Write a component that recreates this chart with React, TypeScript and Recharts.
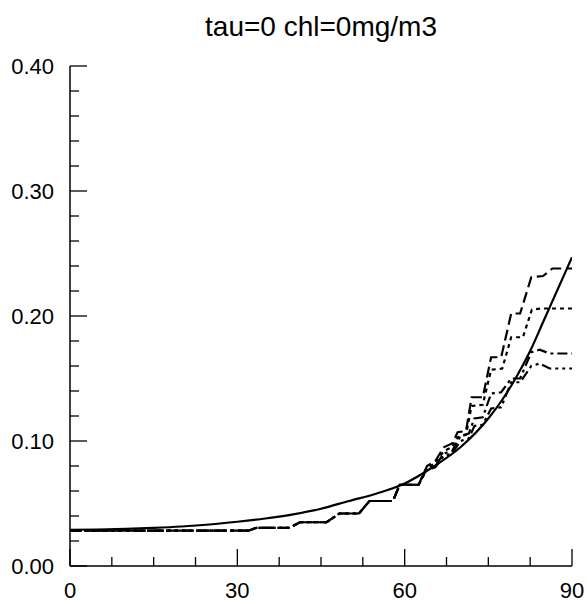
import { LineChart, Line, XAxis, YAxis } from 'recharts'

// angles (deg) and values
const solidX = [0, 5, 10, 15, 20, 25, 30, 35, 40, 45, 50, 55, 60, 65, 70, 75, 77.5, 80, 82.5, 85, 87.5, 90]
const solidY = [0.029, 0.0292, 0.0297, 0.0305, 0.0316, 0.0332, 0.0354, 0.038, 0.0413, 0.0458, 0.052, 0.058, 0.066, 0.079, 0.095, 0.118, 0.133, 0.151, 0.172, 0.197, 0.222, 0.247]

// shared low-angle staircase of the four stepped curves
const lowX = [0, 32, 33.4, 39.4, 41.2, 46, 48.3, 51.8, 53.7, 57.9, 59.1, 62.5]
const lowY = [0.0283, 0.0283, 0.0305, 0.0305, 0.035, 0.035, 0.042, 0.042, 0.052, 0.052, 0.065, 0.065]

const dashX = [64, 65.5, 67, 68.5, 69.5, 71, 72, 74, 75.5, 77.3, 79.1, 80.7, 82.7, 84.8, 86.5, 90]
const dashY = [0.08, 0.084, 0.095, 0.098, 0.107, 0.108, 0.135, 0.135, 0.167, 0.167, 0.202, 0.202, 0.231, 0.232, 0.238, 0.238]

const dotX = [64, 65.5, 67, 68.5, 69.5, 71, 72, 74, 75.5, 77.5, 79.1, 81.2, 82.8, 84.5, 90]
const dotY = [0.079, 0.082, 0.092, 0.095, 0.103, 0.105, 0.128, 0.129, 0.157, 0.158, 0.183, 0.183, 0.205, 0.206, 0.206]

const dashDotX = [64, 65.5, 67, 68.5, 70, 71.5, 72.5, 74, 75.5, 77.3, 79.1, 80.7, 82.7, 84.2, 86, 90]
const dashDotY = [0.078, 0.08, 0.09, 0.092, 0.104, 0.106, 0.118, 0.119, 0.138, 0.139, 0.15, 0.15, 0.171, 0.173, 0.17, 0.17]

const dashDot2X = [64, 65.5, 67, 68.5, 70, 71.5, 72.5, 74, 75.5, 77.3, 79.1, 80.7, 82.7, 84.2, 86, 90]
const dashDot2Y = [0.077, 0.079, 0.088, 0.09, 0.1, 0.102, 0.112, 0.113, 0.126, 0.127, 0.147, 0.147, 0.16, 0.162, 0.158, 0.158]

const xTicks = [0, 7.5, 15, 22.5, 30, 37.5, 45, 52.5, 60, 67.5, 75, 82.5, 90]
const yTicks = [0, 0.02, 0.04, 0.06, 0.08, 0.1, 0.12, 0.14, 0.16, 0.18, 0.2, 0.22, 0.24, 0.26, 0.28, 0.3, 0.32, 0.34, 0.36, 0.38, 0.4]

const toPoints = (xs: number[], ys: number[]) => xs.map((x, i) => ({ x, y: ys[i] }))
const withLow = (xs: number[], ys: number[]) => toPoints([...lowX, ...xs], [...lowY, ...ys])

const FONT = '"Liberation Sans", Arial, Helvetica, sans-serif'
const MAJOR = 17
const MINOR = 9

const isMajorX = (v: number) => v % 30 === 0
const isMajorY = (v: number) => Math.abs(v * 10 - Math.round(v * 10)) < 1e-6

function BottomTick(props: any) {
  const { x, y, payload } = props
  const major = isMajorX(payload.value)
  return (
    <g>
      <line x1={x} x2={x} y1={y} y2={y - (major ? MAJOR : MINOR)} stroke="#000" strokeWidth={1.3} />
      {major && (
        <text x={x} y={y + 24} dy="0.35em" textAnchor="middle" fontFamily={FONT} fontSize={22} fill="#000">
          {payload.value}
        </text>
      )}
    </g>
  )
}

function TopTick(props: any) {
  const { x, y, payload } = props
  const major = isMajorX(payload.value)
  return <line x1={x} x2={x} y1={y} y2={y + (major ? MAJOR : MINOR)} stroke="#000" strokeWidth={1.3} />
}

function LeftTick(props: any) {
  const { x, y, payload } = props
  const major = isMajorY(payload.value)
  return (
    <g>
      <line x1={x} x2={x + (major ? MAJOR : MINOR)} y1={y} y2={y} stroke="#000" strokeWidth={1.3} />
      {major && (
        <text x={x - 16} y={y} dy="0.35em" textAnchor="end" fontFamily={FONT} fontSize={22} fill="#000">
          {payload.value.toFixed(2)}
        </text>
      )}
    </g>
  )
}

function RightTick(props: any) {
  const { x, y, payload } = props
  const major = isMajorY(payload.value)
  return <line x1={x} x2={x - (major ? MAJOR : MINOR)} y1={y} y2={y} stroke="#000" strokeWidth={1.3} />
}

export default function App() {
  return (
    <div style={{ position: 'fixed', left: 0, top: 0, width: 588, height: 604, background: '#fff' }}>
      <style>{'html, body { margin: 0; overflow: hidden; }'}</style>
      <div
        style={{
          position: 'absolute',
          left: 70,
          width: 502,
          top: 11,
          textAlign: 'center',
          fontFamily: FONT,
          fontSize: 28,
          lineHeight: '32px',
        }}
      >
        tau=0 chl=0mg/m3
      </div>
      <LineChart width={588} height={604} margin={{ top: 66, right: 16, bottom: 0, left: 0 }}>
        <XAxis
          dataKey="x"
          type="number"
          domain={[0, 90]}
          ticks={xTicks}
          interval={0}
          height={38}
          tickSize={0}
          tickMargin={0}
          tickLine={false}
          axisLine={{ stroke: '#000', strokeWidth: 1.5 }}
          tick={<BottomTick />}
          allowDataOverflow
        />
        <XAxis
          xAxisId="top"
          orientation="top"
          dataKey="x"
          type="number"
          domain={[0, 90]}
          ticks={xTicks}
          interval={0}
          height={0}
          tickSize={0}
          tickMargin={0}
          tickLine={false}
          axisLine={{ stroke: '#000', strokeWidth: 1.5 }}
          tick={<TopTick />}
        />
        <YAxis
          type="number"
          domain={[0, 0.4]}
          ticks={yTicks}
          interval={0}
          width={70}
          tickSize={0}
          tickMargin={0}
          tickLine={false}
          axisLine={{ stroke: '#000', strokeWidth: 1.5 }}
          tick={<LeftTick />}
          allowDataOverflow
        />
        <YAxis
          yAxisId="right"
          orientation="right"
          type="number"
          domain={[0, 0.4]}
          ticks={yTicks}
          interval={0}
          width={0}
          tickSize={0}
          tickMargin={0}
          tickLine={false}
          axisLine={{ stroke: '#000', strokeWidth: 1.5 }}
          tick={<RightTick />}
        />
        <Line data={toPoints(solidX, solidY)} dataKey="y" type="monotone" stroke="#000" strokeWidth={2.2} dot={false} isAnimationActive={false} />
        <Line data={withLow(dashX, dashY)} dataKey="y" type="linear" stroke="#000" strokeWidth={2.2} strokeDasharray="11 5" dot={false} isAnimationActive={false} />
        <Line data={withLow(dotX, dotY)} dataKey="y" type="linear" stroke="#000" strokeWidth={2.2} strokeDasharray="4 4" dot={false} isAnimationActive={false} />
        <Line data={withLow(dashDotX, dashDotY)} dataKey="y" type="linear" stroke="#000" strokeWidth={2.2} strokeDasharray="10 4 3 4" dot={false} isAnimationActive={false} />
        <Line data={withLow(dashDot2X, dashDot2Y)} dataKey="y" type="linear" stroke="#000" strokeWidth={2.2} strokeDasharray="10 4 3 4 3 4" dot={false} isAnimationActive={false} />
      </LineChart>
    </div>
  )
}
